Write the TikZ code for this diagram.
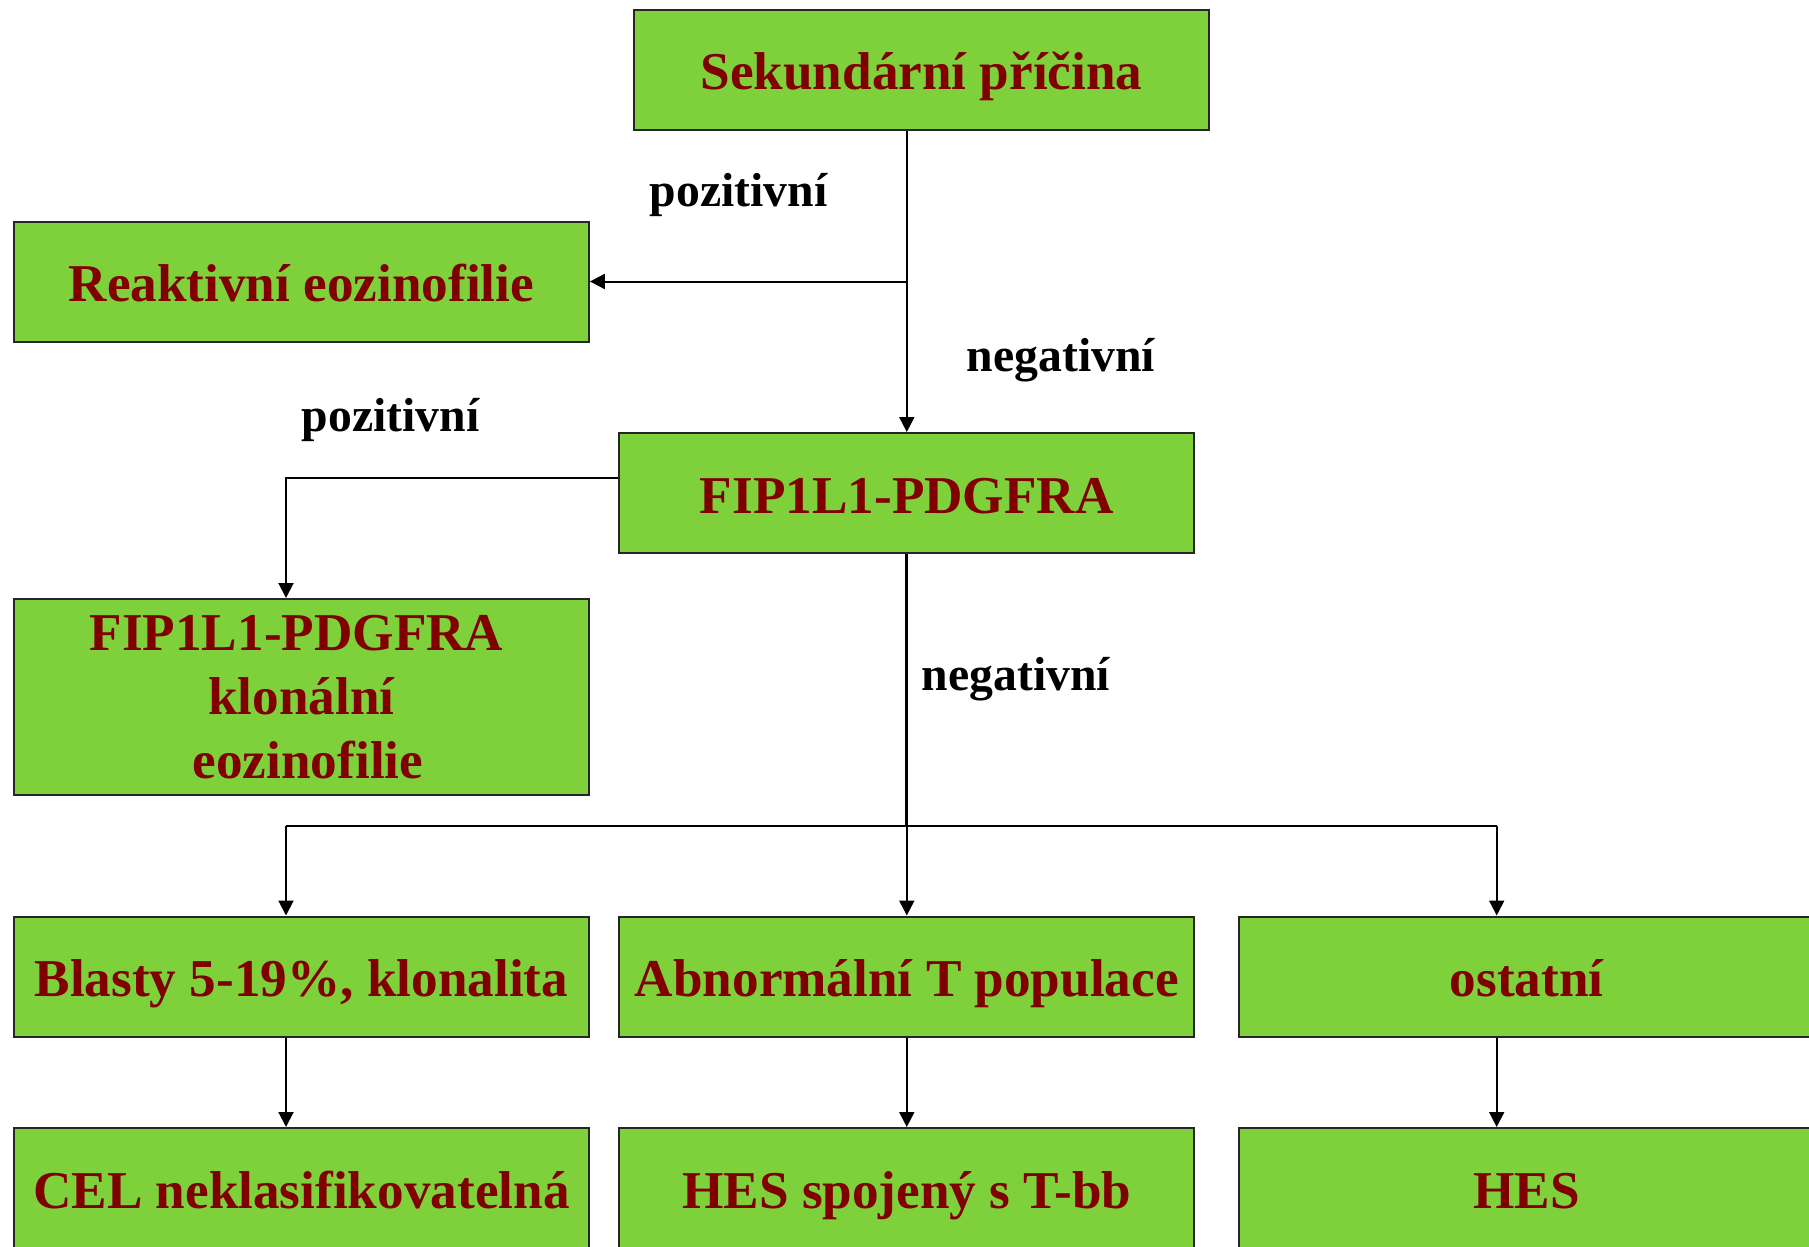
\documentclass[tikz,border=0pt]{standalone}
\usepackage{fontspec}
\setmainfont{Liberation Serif}
\usetikzlibrary{arrows.meta}
\definecolor{boxgreen}{HTML}{7FD13B}
\definecolor{boxtext}{HTML}{800000}
\begin{document}
\begin{tikzpicture}[x=0.5pt,y=-0.5pt,
  boxbase/.style={draw=black!85, line width=1pt, fill=boxgreen, minimum width=287.5pt, minimum height=60pt, inner sep=0pt, text=boxtext, font=\fontsize{26.6}{32}\selectfont\bfseries, align=center},
  box/.style={boxbase, text height=25pt, text depth=5pt},
  lbl/.style={font=\fontsize{23.85}{28}\selectfont\bfseries, text=black, inner sep=0pt, anchor=base},
  conn/.style={line width=1pt, draw=black},
  arr/.style={conn, -{Triangle[length=7.5pt,width=7.5pt]}}]
\fill[white] (0,0) rectangle (1809,1247);
\useasboundingbox (0,0) rectangle (1809,1247);

\node[box] (top) at (921.5,69.7) {Sekundární příčina};
\node[box] (reakt) at (301.4,281.5) {Reaktivní eozinofilie};
\node[box] (fip) at (906.8,493) {FIP1L1-PDGFRA};
\node[boxbase, minimum height=98pt] (klon) at (301.4,697) {FIP1L1-PDGFRA\hspace*{4.9pt}\\klonální\\\hspace*{6.6pt}eozinofilie};

\node[box] (b1) at (301.4,976.5) {Blasty 5-19\%, klonalita};
\node[box] (b2) at (906.8,976.5) {Abnormální T populace};
\node[box] (b3) at (1526.8,976.5) {ostatní};

\node[box] (c1) at (301.4,1188) {CEL neklasifikovatelná};
\node[box] (c2) at (906.8,1188) {HES spojený s T-bb};
\node[box] (c3) at (1526.8,1188) {HES};

\node[lbl] (p1) at (738.7,206) {pozitivní};
\node[lbl] (n1) at (1061,371.7) {negativní};
\node[lbl] (p2) at (390.5,431.7) {pozitivní};
\node[lbl] (n2) at (1015.8,690) {negativní};

\coordinate (kl) at (286,477.7);
\coordinate (jl) at (286,825.7);
\coordinate (jm) at (906.8,825.7);
\coordinate (jr) at (1496.7,825.7);

\draw[arr] (top.south -| fip.north) -- (fip.north);
\draw[arr] (reakt.east -| fip.north) -- (reakt.east);
\draw[arr] (fip.west |- kl) -- (kl) -- (klon.north -| kl);
\draw[conn, line width=1.5pt] (fip.south) -- (jm);
\draw[conn] (jl) -- (jr);
\draw[arr] (jl) -- (b1.north -| jl);
\draw[arr] (jm) -- (b2.north);
\draw[arr] (jr) -- (b3.north -| jr);
\draw[arr] (b1.south -| jl) -- (c1.north -| jl);
\draw[arr] (b2.south) -- (c2.north);
\draw[arr] (b3.south -| jr) -- (c3.north -| jr);
\end{tikzpicture}
\end{document}
